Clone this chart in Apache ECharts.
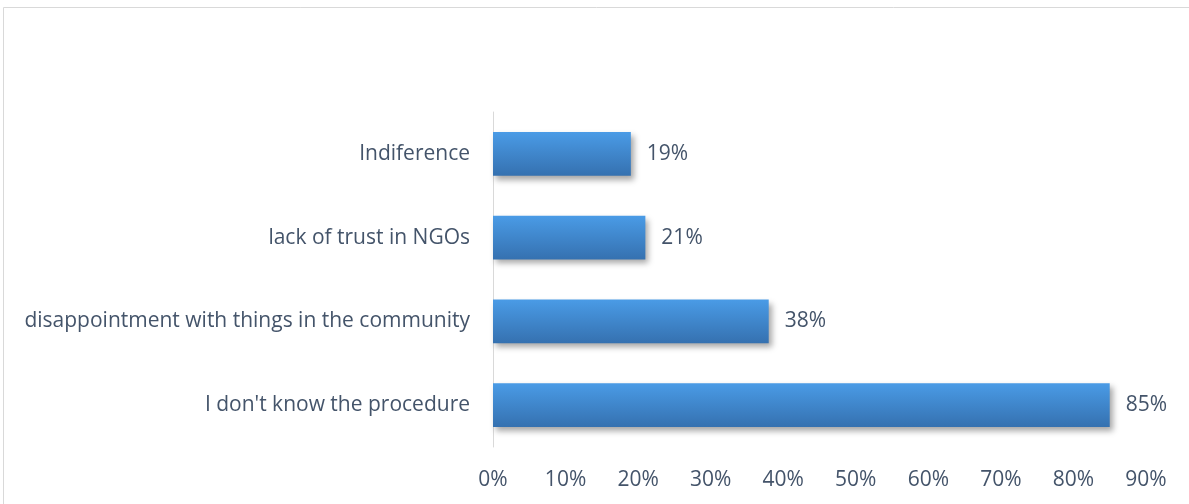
<!DOCTYPE html>
<html><head><meta charset="utf-8">
<script src="https://cdn.jsdelivr.net/npm/echarts@6/dist/echarts.min.js"></script>
<style>html,body{margin:0;padding:0;background:#fff}#c{width:1189px;height:504px}</style>
</head><body><div id="c"></div>
<script>
const categories = ["I don't know the procedure", "disappointment with things in the community", "lack of trust in NGOs", "Indiference"];
const values = [85, 38, 21, 19];
const xTicks = [0, 10, 20, 30, 40, 50, 60, 70, 80, 90];

const chart = echarts.init(document.getElementById('c'));
const txt = '#44546a';
const font = 'Open Sans';
const fs = 21;
chart.setOption({
  animation: false,
  graphic: [{type:'rect', shape:{x:3.5,y:7.5,width:1200,height:520}, style:{fill:'none', stroke:'#d9d9d9', lineWidth:1}}],
  grid: {left: 493, right: 1189-1146, top: 112, bottom: 504-447},
  xAxis: {type:'value', min: xTicks[0], max: xTicks[xTicks.length-1], interval: 10,
    axisLine:{show:false}, axisTick:{show:false}, splitLine:{show:false},
    axisLabel:{formatter: v => v + '%', color: txt, fontSize: fs, fontFamily: font, margin: 23}},
  yAxis: {type:'category', data: categories,
    axisLine:{show:true, lineStyle:{color:'#d9d9d9', width:1}}, axisTick:{show:false},
    axisLabel:{color: txt, fontSize: fs, fontFamily: font, margin: 23, padding:[3,0,0,0]}},
  series: [{type:'bar', data: values, barWidth: '52%',
    itemStyle:{color: new echarts.graphic.LinearGradient(0,0,0,1,[{offset:0,color:'#4a9be6'},{offset:1,color:'#3571b0'}]),
      shadowColor:'rgba(0,0,0,0.35)', shadowBlur:6, shadowOffsetX:3, shadowOffsetY:4},
    label:{show:true, position:'right', distance: 16, padding:[3,0,0,0], formatter: p => p.value + '%', color: txt, fontSize: fs, fontFamily: font}}]
});
</script></body></html>
